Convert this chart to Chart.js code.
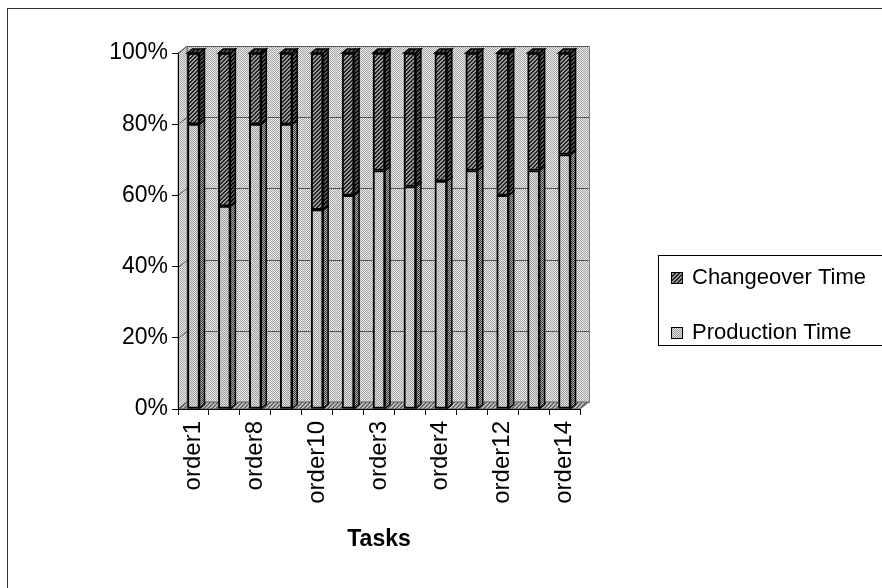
<!DOCTYPE html>
<html lang="en">
<head>
<meta charset="UTF-8">
<title>Tasks</title>
<style>
  body { margin: 0; background: #fff; }
  #box { width: 882px; height: 588px; }
</style>
</head>
<body>
<div id="box"><canvas id="myChart" width="882" height="588"></canvas></div>
<script src="https://cdn.jsdelivr.net/npm/chart.js"></script>
<script>
// data (percent of each task's total time)
const tasks = ['order1', 'order2', 'order8', 'order9', 'order10', 'order5', 'order3',
               'order6', 'order4', 'order11', 'order12', 'order13', 'order14'];
const productionTime = [80, 57, 80, 80, 56, 60, 67, 62.5, 64, 67, 60, 67, 71.5];
const changeoverTime = [20, 43, 20, 20, 44, 40, 33, 37.5, 36, 33, 40, 33, 28.5];
const yTicks = [0, 20, 40, 60, 80, 100];

const canvas = document.getElementById('myChart');
const g = canvas.getContext('2d');

// small tiles to imitate the old stipple / hatch fills
function tile(bg, fg, kind) {
  const c = document.createElement('canvas');
  c.width = 4; c.height = 4;
  const t = c.getContext('2d');
  t.fillStyle = bg; t.fillRect(0, 0, 4, 4);
  t.fillStyle = fg;
  for (let x = 0; x < 4; x++) {
    for (let y = 0; y < 4; y++) {
      if (kind == 'dots' && (x + y) % 2 == 0) t.fillRect(x, y, 1, 1);
      if (kind == 'hatch' && ((x + y) % 4 == 3 || (x + y) % 4 == 0)) t.fillRect(x, y, 1, 1);
    }
  }
  return g.createPattern(c, 'repeat');
}
const prodFill = tile('#e2e2e2', '#9e9e9e', 'dots');
const prodSide = tile('#a8a8a8', '#404040', 'dots');
const chgFill = tile('#9a9a9a', '#262626', 'hatch');
const chgSide = tile('#5a5a5a', '#080808', 'hatch');
const wallFill = tile('#e8e8e8', '#a8a8a8', 'dots');
const floorFill = tile('#bdbdbd', '#6a6a6a', 'hatch');

const DX = 9, DY = -7;   // depth of the walls
const BX = 5, BY = -4;   // depth of the bars

const frame3d = {
  id: 'frame3d',
  beforeDraw(chart) {
    const c = chart.ctx, a = chart.chartArea, y = chart.scales.y;
    c.save();
    // back wall
    c.fillStyle = wallFill;
    c.fillRect(a.left + DX, a.top + DY, a.right - a.left, a.bottom - a.top);
    c.strokeStyle = '#808080'; c.lineWidth = 1;
    c.strokeRect(a.left + DX + 0.5, a.top + DY + 0.5, a.right - a.left, a.bottom - a.top);
    // left wall
    c.beginPath();
    c.moveTo(a.left, a.top); c.lineTo(a.left + DX, a.top + DY);
    c.lineTo(a.left + DX, a.bottom + DY); c.lineTo(a.left, a.bottom);
    c.closePath();
    c.fillStyle = wallFill; c.fill();
    c.strokeStyle = '#808080'; c.stroke();
    // floor
    c.beginPath();
    c.moveTo(a.left, a.bottom); c.lineTo(a.left + DX, a.bottom + DY);
    c.lineTo(a.right + DX, a.bottom + DY); c.lineTo(a.right, a.bottom);
    c.closePath();
    c.fillStyle = floorFill; c.fill();
    c.strokeStyle = '#606060'; c.stroke();
    // grid lines on the back wall and marks on the left wall
    for (let i = 0; i < yTicks.length; i++) {
      const py = Math.round(y.getPixelForValue(yTicks[i])) + 0.5;
      c.strokeStyle = '#555';
      c.beginPath();
      c.moveTo(a.left, py); c.lineTo(a.left + DX, py + DY);
      if (i > 0) c.lineTo(a.right + DX, py + DY);
      c.stroke();
    }
    c.restore();
  },
  afterDatasetsDraw(chart) {
    const c = chart.ctx;
    c.save();
    c.strokeStyle = '#000'; c.lineWidth = 1.5;
    chart.data.datasets.forEach((ds, di) => {
      const meta = chart.getDatasetMeta(di);
      const last = di == chart.data.datasets.length - 1;
      meta.data.forEach(bar => {
        const r = bar.x + bar.width / 2, l = bar.x - bar.width / 2;
        // side face
        c.beginPath();
        c.moveTo(r, bar.y); c.lineTo(r + BX, bar.y + BY);
        c.lineTo(r + BX, bar.base + BY); c.lineTo(r, bar.base);
        c.closePath();
        c.fillStyle = di == 0 ? prodSide : chgSide;
        c.fill(); c.stroke();
        if (last) {
          c.beginPath();
          c.moveTo(l, bar.y); c.lineTo(l + BX, bar.y + BY);
          c.lineTo(r + BX, bar.y + BY); c.lineTo(r, bar.y);
          c.closePath();
          c.fillStyle = chgSide;
          c.fill(); c.stroke();
        }
      });
    });
    c.restore();
  },
  afterDraw(chart) {
    const c = chart.ctx;
    c.save();
    // outer frame
    c.strokeStyle = '#333'; c.lineWidth = 1;
    c.strokeRect(7.5, 8.5, 900, 600);
    // legend box
    c.strokeStyle = '#000';
    c.strokeRect(658.5, 255.5, 240, 90);
    const items = [chart.data.datasets[1], chart.data.datasets[0]];
    c.font = '22px Arial, "Liberation Sans", sans-serif';
    c.textBaseline = 'middle';
    items.forEach((ds, i) => {
      const cy = 278 + i * 55;
      c.fillStyle = ds.backgroundColor;
      c.fillRect(671, cy - 6, 12, 12);
      c.lineWidth = 1;
      c.strokeRect(671.5, cy - 5.5, 11, 11);
      c.fillStyle = '#000';
      c.fillText(ds.label, 692, cy);
    });
    c.restore();
  }
};

new Chart(canvas, {
  type: 'bar',
  data: {
    labels: tasks,
    datasets: [{
      label: 'Production Time',
      data: productionTime,
      backgroundColor: prodFill,
      borderColor: '#000',
      borderWidth: 2,
      borderSkipped: false
    }, {
      label: 'Changeover Time',
      data: changeoverTime,
      backgroundColor: chgFill,
      borderColor: '#000',
      borderWidth: 2,
      borderSkipped: false
    }]
  },
  options: {
    responsive: false,
    animation: false,
    layout: { padding: { left: 78, right: 302, top: 53, bottom: 35 } },
    plugins: { legend: { display: false }, tooltip: { enabled: false } },
    datasets: { bar: { barThickness: 12 } },
    scales: {
      x: {
        stacked: true,
        afterFit: s => { s.height = 144; },
        grid: { offset: true, drawOnChartArea: false, tickLength: 6, color: '#000' },
        border: { display: true, color: '#000', width: 1 },
        ticks: {
          autoSkip: false,
          minRotation: 90,
          maxRotation: 90,
          padding: 6,
          color: '#000',
          font: { family: 'Arial, "Liberation Sans", sans-serif', size: 24 },
          callback: function (v, i) { return i % 2 == 0 ? this.getLabelForValue(v) : ''; }
        },
        title: {
          display: true,
          text: 'Tasks',
          color: '#000',
          padding: 0,
          font: { family: 'Arial, "Liberation Sans", sans-serif', size: 23, weight: 'bold' }
        }
      },
      y: {
        stacked: true,
        min: 0,
        max: 100,
        afterFit: s => { s.width = 100; },
        grid: { drawOnChartArea: false, tickLength: 6, color: '#000' },
        border: { display: true, color: '#000', width: 1 },
        ticks: {
          stepSize: 20,
          padding: 4,
          color: '#000',
          font: { family: 'Arial, "Liberation Sans", sans-serif', size: 23 },
          callback: v => v + '%'
        }
      }
    }
  },
  plugins: [frame3d]
});
</script>
</body>
</html>
